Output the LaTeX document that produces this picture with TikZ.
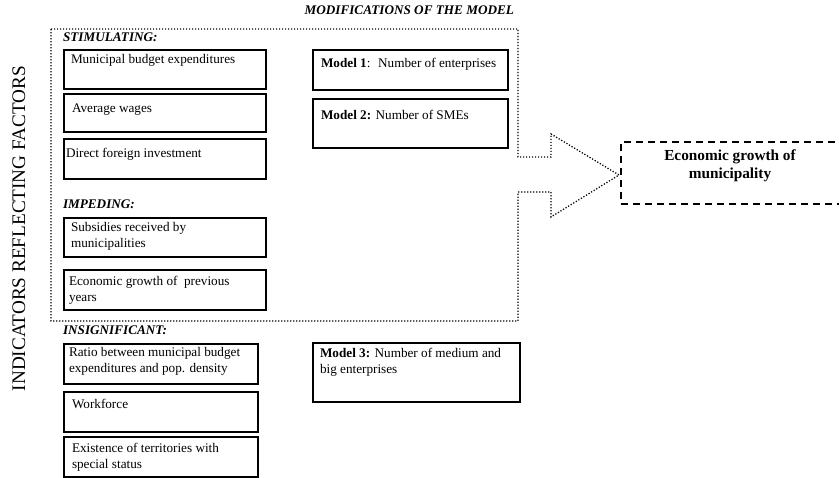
\documentclass[tikz,border=0pt]{standalone}
\usepackage{fontspec}
\setmainfont{Liberation Serif}
\begin{document}
\begin{tikzpicture}[x=1pt,y=-1pt,
  every node/.style={inner sep=0pt, outer sep=0pt},
  txt/.style={font=\fontsize{13.2}{16}\selectfont, align=left, anchor=base west},
  head/.style={font=\fontsize{13.2}{16}\selectfont\bfseries\itshape, anchor=base west},
  factorbox/.style={draw, line width=1.5pt, anchor=north west},
  dotline/.style={line width=1.3pt, dash pattern=on 1.2pt off 1.8pt},
  dashbox/.style={draw, line width=1.6pt, dash pattern=on 7pt off 5pt, anchor=north west}]
\useasboundingbox (0,0) rectangle (839,478);
\clip (0,0) rectangle (839,478);

% side title
\node[font=\fontsize{19.2}{22}\selectfont, rotate=90, anchor=base] (side) at (25,228.5)
  {INDICATORS REFLECTING FACTORS};

% dotted frame with arrow pointing to the result
\draw[dotline] (51,29) -- (518,29) -- (518,157) -- (551,157) -- (551,134)
  -- (619,175) -- (551,217) -- (551,192) -- (518,192) -- (518,321) -- (51,321) -- cycle;
\node[head, anchor=base east] (mods) at (514,15) {MODIFICATIONS OF THE MODEL};

% stimulating factors (multi-line texts are placed by their last baseline)
\node[head] (hstim) at (63,42) {STIMULATING:};
\node[factorbox, minimum width=202pt, minimum height=39pt] (b1) at (64,50) {};
\node[txt] (t1) at (71,64) {Municipal budget expenditures};
\node[factorbox, minimum width=202pt, minimum height=38pt] (b2) at (64,94) {};
\node[txt] (t2) at (72,113) {Average wages};
\node[factorbox, minimum width=202pt, minimum height=40pt] (b3) at (64,139) {};
\node[txt] (t3) at (66,158) {Direct foreign investment};

% impeding factors
\node[head] (himp) at (63,209) {IMPEDING:};
\node[factorbox, minimum width=202pt, minimum height=39pt] (b4) at (64,218) {};
\node[txt] (t4) at (71,248) {Subsidies received by\\municipalities};
\node[factorbox, minimum width=202pt, minimum height=40pt] (b5) at (64,270) {};
\node[txt] (t5) at (69,302) {Economic growth of~ previous\\years};

% insignificant factors
\node[head] (hins) at (63,335) {INSIGNIFICANT:};
\node[factorbox, minimum width=194pt, minimum height=40pt] (b6) at (64,344) {};
\node[txt] (t6) at (69,373) {Ratio between municipal budget\\expenditures and pop. density};
\node[factorbox, minimum width=194pt, minimum height=40pt] (b7) at (64,392) {};
\node[txt] (t7) at (72,409) {Workforce};
\node[factorbox, minimum width=194pt, minimum height=40pt] (b8) at (64,437) {};
\node[txt] (t8) at (72,469) {Existence of territories with\\special status};

% model variants
\node[factorbox, minimum width=195pt, minimum height=40pt] (m1) at (313,50) {};
\node[txt] (tm1) at (321,68) {\textbf{Model 1}:~ Number of enterprises};
\node[factorbox, minimum width=195pt, minimum height=49pt] (m2) at (313,99) {};
\node[txt] (tm2) at (321,120) {\textbf{Model 2:} Number of SMEs};
\node[factorbox, minimum width=207pt, minimum height=59pt] (m3) at (313,343) {};
\node[txt] (tm3) at (320,374) {\textbf{Model 3:} Number of medium and\\big enterprises};

% result
\node[dashbox, minimum width=220pt, minimum height=62pt] (res) at (621,142) {};
\node[txt, font=\fontsize{15.3}{18}\selectfont\bfseries, align=center, anchor=base] (tres) at (730,179)
  {Economic growth of\\municipality};
\end{tikzpicture}
\end{document}
